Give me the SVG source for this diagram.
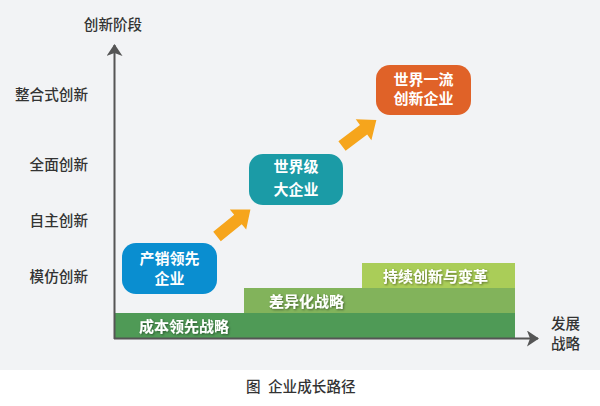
<svg xmlns="http://www.w3.org/2000/svg" width="600" height="406" viewBox="0 0 600 406">
<defs>
<style>
.lbl{font-family:"Noto Sans CJK SC","Liberation Sans",sans-serif;font-size:14.6px;font-weight:500;fill:#333;}
.box{font-family:"Noto Sans CJK SC","Liberation Sans",sans-serif;font-size:15px;font-weight:bold;fill:#fff;text-anchor:middle;}
.bar{font-family:"Noto Sans CJK SC","Liberation Sans",sans-serif;font-size:15px;font-weight:bold;fill:#fff;}
.axis{stroke:#555;stroke-width:2;fill:none;}
.oarrow{fill:#f6a51c;}
</style>
<filter id="sh" x="-10%" y="-30%" width="130%" height="160%">
<feDropShadow dx="1" dy="1" stdDeviation="0.8" flood-color="#000" flood-opacity="0.45"/>
</filter>
<marker id="ah" markerWidth="12" markerHeight="16" refX="11" refY="8" orient="auto" markerUnits="userSpaceOnUse">
<path d="M0,0 L12,8 L0,16 L3,8 Z" fill="#555"/>
</marker>
</defs>
<rect x="0" y="0" width="600" height="370" fill="#f2f3f5"/>
<rect x="0" y="370" width="600" height="36" fill="#ffffff"/>

<g id="bars">
<rect x="115" y="313" width="400" height="25" fill="#4f9a56"/>
<rect x="244" y="288" width="271" height="25" fill="#82b35b"/>
<rect x="362" y="263" width="153" height="25" fill="#aacd58"/>
<text class="bar" x="139" y="331.5" filter="url(#sh)">成本领先战略</text>
<text class="bar" x="269" y="306.5" filter="url(#sh)">差异化战略</text>
<text class="bar" x="383" y="281.5" filter="url(#sh)">持续创新与变革</text>
</g>

<g id="axes">
<line class="axis" x1="114.5" y1="339" x2="114.5" y2="45" marker-end="url(#ah)"/>
<line class="axis" x1="114" y1="338.5" x2="538" y2="338.5" marker-end="url(#ah)"/>
</g>

<g id="labels">
<text class="lbl" x="113" y="30" text-anchor="middle">创新阶段</text>
<text class="lbl" x="88" y="100" text-anchor="end">整合式创新</text>
<text class="lbl" x="88" y="170" text-anchor="end">全面创新</text>
<text class="lbl" x="88" y="226" text-anchor="end">自主创新</text>
<text class="lbl" x="88" y="282" text-anchor="end">模仿创新</text>
<text class="lbl" x="551" y="329">发展</text>
<text class="lbl" x="551" y="349">战略</text>
<text class="lbl" x="246" y="392">图</text>
<text class="lbl" x="268" y="392">企业成长路径</text>
</g>

<g id="node1">
<rect x="122" y="243" width="95" height="51" rx="14" fill="#0a8ed0"/>
<text class="box" x="169.5" y="264">产销领先</text>
<text class="box" x="169.5" y="284">企业</text>
</g>
<g id="node2">
<rect x="249" y="154" width="94" height="51" rx="14" fill="#1b9ba6"/>
<text class="box" x="296" y="172">世界级</text>
<text class="box" x="296" y="195">大企业</text>
</g>
<g id="node3">
<rect x="376" y="65" width="95" height="50" rx="14" fill="#e06228"/>
<text class="box" x="423.5" y="85">世界一流</text>
<text class="box" x="423.5" y="104">创新企业</text>
</g>

<g id="connectors">
<polygon class="oarrow" points="0,-6 27,-6 27,-13 43,0 27,13 27,6 0,6" transform="translate(217,236.5) rotate(-39)"/>
<polygon class="oarrow" points="0,-6 27,-6 27,-13 43,0 27,13 27,6 0,6" transform="translate(342,146) rotate(-37)"/>
</g>
</svg>
